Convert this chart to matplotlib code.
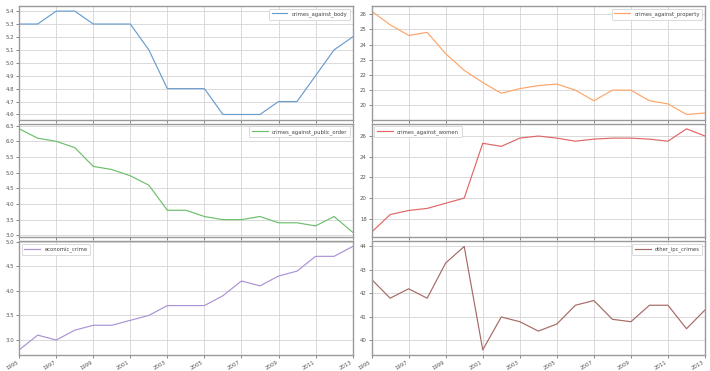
import matplotlib
matplotlib.use("Agg")
import matplotlib.pyplot as plt
from matplotlib.ticker import MultipleLocator

years = list(range(1995, 2014))
crimes_against_body = [5.3, 5.3, 5.4, 5.4, 5.3, 5.3, 5.3, 5.1, 4.8, 4.8, 4.8, 4.6, 4.6, 4.6, 4.7, 4.7, 4.9, 5.1, 5.2]
crimes_against_property = [26.2, 25.3, 24.6, 24.8, 23.4, 22.3, 21.5, 20.8, 21.1, 21.3, 21.4, 21.0, 20.3, 21.0, 21.0, 20.3, 20.1, 19.4, 19.5]
crimes_against_public_order = [6.4, 6.1, 6.0, 5.8, 5.2, 5.1, 4.9, 4.6, 3.8, 3.8, 3.6, 3.5, 3.5, 3.6, 3.4, 3.4, 3.3, 3.6, 3.1]
crimes_against_women = [16.7, 18.4, 18.8, 19.0, 19.5, 20.0, 25.3, 25.0, 25.8, 26.0, 25.8, 25.5, 25.7, 25.8, 25.8, 25.7, 25.5, 26.7, 26.0]
economic_crime = [2.8, 3.1, 3.0, 3.2, 3.3, 3.3, 3.4, 3.5, 3.7, 3.7, 3.7, 3.9, 4.2, 4.1, 4.3, 4.4, 4.7, 4.7, 4.9]
other_ipc_crimes = [42.6, 41.8, 42.2, 41.8, 43.3, 44.0, 39.6, 41.0, 40.8, 40.4, 40.7, 41.5, 41.7, 40.9, 40.8, 41.5, 41.5, 40.5, 41.3]

series = [
    ("crimes_against_body", crimes_against_body, "#6a9ccf", 0.1, "upper right"),
    ("crimes_against_property", crimes_against_property, "#ffa468", 1, "upper right"),
    ("crimes_against_public_order", crimes_against_public_order, "#6cbf6c", 0.5, "upper right"),
    ("crimes_against_women", crimes_against_women, "#e06666", 2, "upper left"),
    ("economic_crime", economic_crime, "#ab92d4", 0.5, "upper left"),
    ("other_ipc_crimes", other_ipc_crimes, "#a66a64", 1, "upper right"),
]

fig, axes = plt.subplots(3, 2, figsize=(7.10, 3.71), dpi=100, sharex=True)
fig.subplots_adjust(left=0.027, right=0.993, bottom=0.043, top=0.984, wspace=0.057, hspace=0.035)

for ax, (name, vals, color, step, loc) in zip(axes.flat, series):
    ax.plot(years, vals, color=color, lw=0.85, label=name)
    ax.set_xlim(years[0], years[-1])
    ax.yaxis.set_major_locator(MultipleLocator(step))
    ax.set_xticks(years[::2])
    ax.grid(True, color="#d4d4d4", lw=0.6)
    for sp in ax.spines.values():
        sp.set_color("#9a9a9a")
        sp.set_linewidth(1.0)
    ax.tick_params(labelsize=3.9, colors="#555555", length=2, width=0.5, pad=1.5)
    leg = ax.legend(loc=loc, fontsize=3.8, handlelength=3.0, borderpad=0.5, framealpha=1)
    leg.get_frame().set_edgecolor("#cccccc")
    leg.get_frame().set_linewidth(0.5)
    for t in leg.get_texts():
        t.set_color("#444444")

for ax in axes[-1]:
    ax.set_xticklabels([str(y) for y in years[::2]], rotation=30, ha="right")

fig.savefig("out.png", dpi=100)
